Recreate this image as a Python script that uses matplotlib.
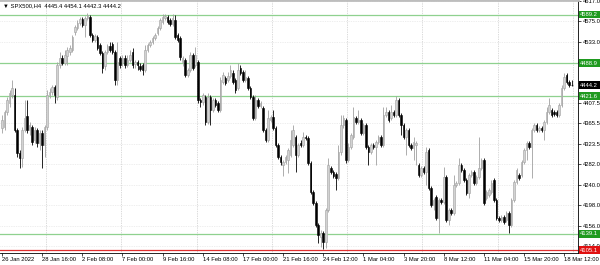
import numpy as np
import matplotlib.pyplot as plt
from matplotlib.transforms import blended_transform_factory

plt.rcParams['font.family'] = ['Liberation Sans', 'DejaVu Sans']

# SPX500 H4 candles, 26 Jan 2022 .. 18 Mar 2022
opens = [
    4356, 4358, 4389, 4408, 4424, 4424, 4352, 4305, 4295, 4352,
    4381, 4352, 4358, 4332, 4352, 4325, 4346, 4321, 4358, 4424,
    4430, 4440, 4420, 4486, 4500, 4490, 4504, 4512, 4516, 4553,
    4562, 4572, 4580, 4568, 4582, 4584, 4547, 4537, 4543, 4527,
    4510, 4484, 4512, 4525, 4529, 4512,
    4455, 4500, 4490, 4500, 4486, 4496, 4512, 4488, 4492, 4484,
    4486, 4475, 4516, 4527, 4533, 4541, 4551, 4562, 4574, 4582,
    4584, 4578, 4570, 4578, 4547, 4541, 4492, 4496, 4465, 4475,
    4506, 4486, 4492, 4414, 4410, 4420, 4369, 4420, 4393, 4414,
    4408, 4393, 4451, 4459, 4455, 4463,
    4469, 4455, 4438, 4479, 4471, 4455, 4459, 4438, 4420, 4377,
    4414, 4401, 4397, 4352, 4332, 4373, 4379, 4356, 4321, 4297,
    4280, 4286, 4291, 4301, 4321, 4338, 4301, 4325, 4321, 4338,
    4336, 4284, 4225, 4202, 4157, 4132, 4141, 4122, 4188, 4274,
    4266, 4262, 4254, 4307, 4362, 4373,
    4291, 4317, 4338, 4377, 4369, 4373, 4346, 4362, 4317, 4307,
    4321, 4317, 4327, 4338, 4321, 4383, 4389, 4377, 4389, 4383,
    4414, 4383, 4362, 4338, 4352, 4321, 4315, 4321, 4280, 4260,
    4274, 4266, 4311, 4233, 4198, 4215, 4172, 4208, 4204, 4256,
    4167, 4188, 4182, 4239,
    4243, 4280, 4270, 4250, 4223, 4260, 4266, 4243, 4256, 4274,
    4291, 4213, 4219, 4225, 4250, 4208, 4172, 4167, 4174, 4167,
    4182, 4157, 4208, 4245, 4260, 4260, 4286, 4311, 4325, 4317,
    4352, 4362, 4352, 4356, 4352, 4369, 4389, 4393, 4389, 4389,
    4383, 4403, 4438, 4465, 4451, 4445.4,
]
highs = [
    4383, 4393, 4420, 4434, 4455, 4438, 4356, 4311, 4358, 4414,
    4414, 4369, 4362, 4358, 4356, 4352, 4352, 4362, 4434, 4438,
    4445, 4445, 4492, 4512, 4506, 4516, 4523, 4527, 4547, 4568,
    4578, 4584, 4584, 4586, 4592, 4588, 4551, 4549, 4547, 4531,
    4514, 4516, 4529, 4533, 4533, 4516,
    4533, 4504, 4506, 4506, 4506, 4516, 4520, 4496, 4496, 4490,
    4490, 4527, 4531, 4537, 4545, 4551, 4566, 4582, 4590, 4590,
    4588, 4582, 4590, 4588, 4551, 4545, 4504, 4500, 4479, 4512,
    4510, 4523, 4496, 4418, 4428, 4424, 4428, 4424, 4418, 4418,
    4412, 4461, 4471, 4463, 4471, 4486,
    4475, 4459, 4490, 4486, 4475, 4475, 4463, 4442, 4424, 4424,
    4418, 4412, 4401, 4356, 4393, 4383, 4393, 4360, 4325, 4301,
    4291, 4301, 4315, 4352, 4362, 4342, 4325, 4332, 4348, 4342,
    4340, 4288, 4229, 4206, 4161, 4147, 4145, 4192, 4295, 4278,
    4270, 4266, 4321, 4383, 4383, 4377,
    4325, 4346, 4399, 4381, 4393, 4377, 4367, 4367, 4321, 4325,
    4325, 4332, 4342, 4342, 4399, 4399, 4393, 4403, 4393, 4422,
    4418, 4387, 4367, 4356, 4356, 4325, 4338, 4330, 4284, 4278,
    4278, 4317, 4315, 4237, 4213, 4219, 4213, 4213, 4276, 4260,
    4192, 4192, 4260, 4247,
    4295, 4284, 4274, 4254, 4264, 4270, 4270, 4260, 4338, 4295,
    4295, 4229, 4233, 4250, 4254, 4213, 4176, 4178, 4178, 4186,
    4186, 4213, 4250, 4274, 4264, 4291, 4315, 4330, 4330, 4356,
    4367, 4367, 4360, 4360, 4373, 4399, 4418, 4397, 4393, 4393,
    4408, 4445, 4469, 4469, 4455, 4454.1,
]
lows = [
    4346, 4352, 4383, 4399, 4418, 4348, 4297, 4274, 4276, 4348,
    4346, 4342, 4321, 4325, 4317, 4311, 4274, 4297, 4352, 4418,
    4424, 4408, 4414, 4479, 4486, 4486, 4486, 4506, 4512, 4547,
    4557, 4568, 4564, 4543, 4578, 4543, 4533, 4533, 4516, 4506,
    4469, 4475, 4508, 4512, 4508, 4445,
    4445, 4479, 4484, 4479, 4481, 4492, 4479, 4479, 4475, 4473,
    4465, 4471, 4512, 4523, 4529, 4537, 4547, 4557, 4570, 4578,
    4570, 4566, 4566, 4539, 4533, 4496, 4484, 4461, 4461, 4471,
    4475, 4481, 4408, 4399, 4403, 4362, 4364, 4362, 4389, 4399,
    4389, 4389, 4447, 4445, 4451, 4459,
    4447, 4428, 4434, 4465, 4451, 4451, 4434, 4416, 4373, 4373,
    4397, 4397, 4348, 4327, 4327, 4369, 4352, 4317, 4293, 4280,
    4258, 4282, 4264, 4297, 4317, 4266, 4297, 4317, 4317, 4332,
    4280, 4221, 4198, 4153, 4120, 4112, 4108, 4110, 4184, 4262,
    4254, 4229, 4250, 4301, 4356, 4284,
    4286, 4313, 4334, 4364, 4364, 4342, 4342, 4313, 4280, 4303,
    4313, 4280, 4323, 4317, 4317, 4379, 4369, 4373, 4379, 4379,
    4379, 4342, 4334, 4301, 4317, 4311, 4291, 4280, 4256, 4256,
    4262, 4239, 4229, 4194, 4188, 4167, 4141, 4200, 4200, 4163,
    4157, 4178, 4178, 4235,
    4239, 4266, 4245, 4219, 4213, 4256, 4239, 4239, 4252, 4270,
    4198, 4208, 4215, 4221, 4204, 4167, 4163, 4163, 4159, 4163,
    4141, 4153, 4204, 4241, 4250, 4256, 4282, 4291, 4313, 4254,
    4348, 4348, 4348, 4348, 4332, 4364, 4385, 4379, 4381, 4379,
    4379, 4399, 4434, 4447, 4440, 4442.3,
]
closes = [
    4373, 4389, 4414, 4428, 4438, 4352, 4305, 4295, 4352, 4377,
    4352, 4362, 4327, 4352, 4325, 4346, 4321, 4358, 4424, 4430,
    4440, 4424, 4486, 4500, 4490, 4506, 4516, 4520, 4543, 4564,
    4572, 4580, 4568, 4582, 4588, 4547, 4537, 4545, 4520, 4510,
    4479, 4512, 4525, 4516, 4512, 4455,
    4492, 4486, 4500, 4486, 4496, 4506, 4486, 4492, 4486, 4477,
    4475, 4516, 4527, 4533, 4541, 4547, 4562, 4578, 4584, 4586,
    4574, 4570, 4582, 4543, 4537, 4502, 4500, 4465, 4475, 4506,
    4479, 4506, 4414, 4410, 4424, 4369, 4420, 4393, 4414, 4403,
    4393, 4455, 4465, 4449, 4463, 4475,
    4451, 4434, 4475, 4469, 4455, 4461, 4438, 4420, 4377, 4414,
    4401, 4408, 4352, 4332, 4377, 4379, 4356, 4321, 4297, 4286,
    4286, 4297, 4311, 4332, 4352, 4301, 4321, 4321, 4338, 4336,
    4284, 4225, 4202, 4157, 4137, 4141, 4122, 4188, 4280, 4266,
    4258, 4254, 4307, 4362, 4377, 4291,
    4317, 4342, 4379, 4369, 4373, 4346, 4362, 4317, 4307, 4321,
    4317, 4327, 4338, 4321, 4383, 4389, 4373, 4389, 4383, 4414,
    4383, 4362, 4338, 4352, 4321, 4315, 4327, 4325, 4260, 4274,
    4266, 4307, 4233, 4198, 4208, 4172, 4208, 4204, 4256, 4167,
    4188, 4182, 4239, 4243,
    4280, 4270, 4250, 4223, 4260, 4266, 4243, 4256, 4274, 4291,
    4202, 4225, 4229, 4243, 4208, 4172, 4167, 4174, 4163, 4182,
    4157, 4208, 4245, 4270, 4254, 4286, 4311, 4325, 4317, 4352,
    4362, 4352, 4356, 4352, 4369, 4389, 4403, 4383, 4385, 4383,
    4403, 4438, 4461, 4451, 4445, 4444.2,
]

time_labels = ['26 Jan 2022', '28 Jan 16:00', '2 Feb 08:00', '7 Feb 00:00',
               '9 Feb 16:00', '14 Feb 08:00', '17 Feb 00:00', '21 Feb 16:00',
               '24 Feb 12:00', '1 Mar 04:00', '3 Mar 20:00', '8 Mar 12:00',
               '11 Mar 04:00', '15 Mar 20:00', '18 Mar 12:00']
price_ticks = [4617.0, 4575.0, 4533.0, 4491.0, 4449.0, 4407.5, 4365.5,
               4323.5, 4282.0, 4240.0, 4198.0, 4156.0, 4114.0]
hidden_ticks = [4491.0, 4449.0]   # covered by the level tags in the terminal
green_levels = [4589.2, 4488.9, 4421.6, 4139.1]
red_level = 4105.1

o = np.array(opens, dtype=float)
h = np.array(highs, dtype=float)
l = np.array(lows, dtype=float)
c = np.array(closes, dtype=float)
x = np.arange(len(c))
up = c >= o

fig = plt.figure(figsize=(6, 2.65), dpi=100)
ax = fig.add_axes([0, 12 / 265, 578 / 600, 1 - 12 / 265])
ax.set_xlim(-0.8, 229.5)
ax.set_ylim(4099.6, 4619.0)

# grid
for p in price_ticks:
    if p in hidden_ticks:
        continue
    ax.axhline(p, color='#dedede', lw=0.5, ls=(0, (1, 1.5)), zorder=0)
for g in np.arange(17.5, 230, 30):
    ax.axvline(g, color='#b8b8b8', lw=0.5, ls=(0, (1, 1.5)), zorder=0)

# levels
for p in green_levels:
    ax.axhline(p, color='#8fd18f', lw=0.9, zorder=1.5)
ax.axhline(red_level, color='#e03030', lw=0.9, zorder=1.5)

# candles
wick_col = np.where(up, '#a0a0a0', '#000000')
ax.vlines(x, l, h, colors=wick_col, lw=0.6, zorder=2)
body = np.maximum(np.abs(c - o), 1.0)
bottom = np.minimum(o, c)
ax.bar(x[up], body[up], bottom=bottom[up], width=0.62, color='#d2d2d2',
       edgecolor='#a0a0a0', linewidth=0.4, zorder=3)
ax.bar(x[~up], body[~up], bottom=bottom[~up], width=0.62, color='#000000',
       edgecolor='#000000', linewidth=0.4, zorder=3)

# axes look
ax.spines['left'].set_visible(False)
ax.spines['top'].set_color('#bdbdbd')
ax.spines['top'].set_linewidth(2)
ax.spines['right'].set_linewidth(0.6)
ax.spines['bottom'].set_linewidth(0.6)

ax.yaxis.tick_right()
ax.set_yticks(price_ticks)
ax.set_yticklabels(['' if p in hidden_ticks else f'{p:.1f}' for p in price_ticks])
ax.tick_params(axis='y', labelsize=4.2, length=2, width=0.5, pad=1.2)

ax.set_xticks(np.arange(len(time_labels)) * 16)
ax.set_xticklabels(time_labels, ha='left')
ax.tick_params(axis='x', labelsize=4.2, length=2, width=0.5, pad=1)

# price labels on the right axis
tr = blended_transform_factory(ax.transAxes, ax.transData)
def tag(p, fc):
    ax.text(1.004, p, f'{p:.1f}', transform=tr, fontsize=4.2, color='white',
            va='center', ha='left', clip_on=False, zorder=10,
            bbox=dict(boxstyle='square,pad=0.25', fc=fc, ec='none'))
for p in green_levels:
    tag(p, '#1f9a1f')
tag(c[-1], '#000000')
tag(red_level, '#e01010')

fig.text(3 / 600, 1 - 6 / 265,
         f'\u25bc SPX500,H4  {o[-1]:.1f} {h[-1]:.1f} {l[-1]:.1f} {c[-1]:.1f}',
         fontsize=4.2, va='center', ha='left')

fig.savefig('out.png', dpi=100)
